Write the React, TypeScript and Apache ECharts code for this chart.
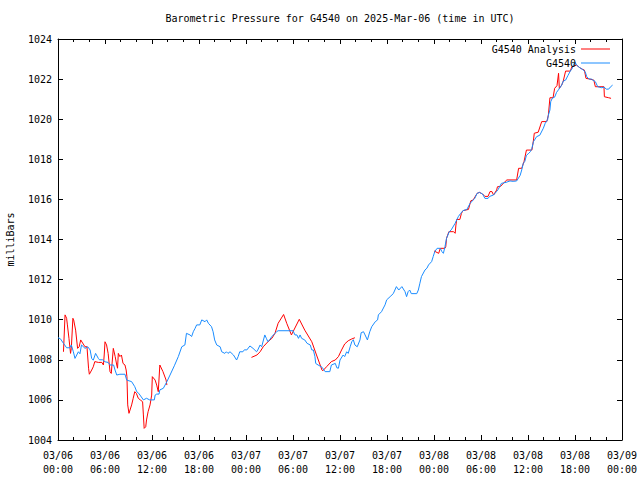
import React, { useEffect, useRef } from "react";
import * as echarts from "echarts";

// Hours since 2025-03-06 00:00 UTC
const xTickHours = [0, 6, 12, 18, 24, 30, 36, 42, 48, 54, 60, 66, 72];
const yTicks = [1004, 1006, 1008, 1010, 1012, 1014, 1016, 1018, 1020, 1022, 1024];

const stationHours = [
  0.0, 0.3, 0.7, 1.1, 1.5, 1.7, 1.96, 2.17, 2.6, 2.8, 3.0, 3.45, 3.8, 4.1, 4.3, 4.5, 4.8, 5.15, 5.3, 5.7,
  6.0, 6.4, 6.64, 7.1, 7.28, 7.5, 7.9, 8.55, 8.77, 9.4, 9.8, 10.05, 10.3, 10.47, 10.9, 11.3, 11.7, 12.3, 12.4, 12.6,
  12.9, 13.0, 13.45, 13.9, 14.3, 14.85, 15.36, 15.8, 16.2, 16.4, 16.85, 17.06, 17.27, 17.5, 17.7, 18.1, 18.35, 18.77, 18.98, 19.2,
  19.6, 19.8, 20.0, 20.26, 20.7, 20.9, 21.3, 21.5, 21.7, 21.96, 22.4, 22.8, 23.0, 23.2, 23.6, 23.8, 24.1, 24.5, 24.9, 25.35,
  25.5, 25.8, 26.0, 26.4, 26.6, 26.8, 27.0, 27.3, 27.7, 27.9, 28.1, 30.0, 30.25, 30.5, 30.7, 30.9, 31.1, 31.5, 31.8, 32.2,
  32.4, 32.6, 32.8, 32.9, 33.2, 33.7, 34.1, 34.7, 34.9, 35.4, 35.6, 35.8, 36.0, 36.4, 36.6, 36.85, 37.05, 37.3, 37.5, 37.7,
  37.9, 38.2, 38.55, 38.7, 39.0, 39.2, 39.5, 39.8, 40.05, 40.5, 40.8, 40.9, 41.3, 41.75, 41.96, 42.4, 42.8, 43.2, 43.5, 43.9,
  44.3, 44.5, 44.7, 44.9, 45.1, 45.8, 46.0, 46.2, 46.4, 46.85, 47.1, 47.3, 47.7, 47.9, 48.1, 48.4, 48.8, 49.0, 49.2, 49.4,
  49.6, 49.95, 50.2, 50.7, 51.1, 51.4, 51.7, 52.2, 52.6, 53.0, 53.2, 53.5, 53.8, 54.2, 54.5, 54.9, 55.1, 55.6, 56.0, 56.2,
  56.6, 57.2, 57.7, 58.1, 58.55, 59.0, 59.2, 59.4, 59.6, 59.8, 60.1, 60.3, 60.5, 60.7, 61.1, 61.5, 61.96, 62.2, 62.5, 62.6,
  62.8, 62.9, 63.1, 63.4, 63.65, 63.95, 64.3, 64.5, 64.8, 65.1, 65.4, 65.6, 65.8, 66.0, 66.2, 66.6, 66.9, 67.3, 67.5, 67.8,
  68.1, 68.6, 68.9, 69.4, 69.7, 70.0, 70.3, 70.5, 70.8,
];
const stationPressure = [
  1009.1, 1009.05, 1008.82, 1008.6, 1008.6, 1008.74, 1008.4, 1008.07, 1008.4, 1008.3, 1008.74, 1008.57, 1008.65, 1008.49, 1008.07, 1007.98, 1008.32, 1008.07, 1008.0, 1008.0,
  1007.9, 1007.87, 1007.74, 1007.74, 1007.49, 1007.24, 1007.28, 1007.28, 1006.99, 1006.91, 1006.66, 1006.41, 1006.33, 1006.24, 1006.0, 1006.08, 1006.0, 1006.0, 1006.24, 1006.29,
  1006.29, 1006.5, 1006.58, 1006.91, 1007.24, 1007.7, 1008.16, 1008.65, 1008.74, 1009.32, 1009.24, 1009.16, 1009.4, 1009.57, 1009.74, 1009.74, 1009.99, 1009.9, 1009.99, 1009.82,
  1009.65, 1009.4, 1008.99, 1008.74, 1008.65, 1008.4, 1008.32, 1008.4, 1008.32, 1008.4, 1008.24, 1007.99, 1008.16, 1008.4, 1008.4, 1008.5, 1008.49, 1008.69, 1008.57, 1008.4,
  1008.49, 1008.74, 1008.65, 1009.24, 1009.07, 1008.9, 1008.99, 1009.16, 1009.32, 1009.4, 1009.45, 1009.45, 1009.24, 1009.24, 1009.07, 1009.24, 1009.07, 1008.99, 1008.82, 1008.74,
  1008.49, 1008.49, 1008.16, 1007.82, 1007.74, 1007.63, 1007.41, 1007.41, 1007.74, 1007.82, 1007.6, 1007.58, 1007.99, 1008.24, 1008.16, 1008.4, 1008.32, 1008.65, 1008.9, 1009.0,
  1008.74, 1008.65, 1008.99, 1009.35, 1009.4, 1009.24, 1008.99, 1009.4, 1009.65, 1009.9, 1009.99, 1010.24, 1010.4, 1010.74, 1010.99, 1011.15, 1011.3, 1011.65, 1011.48, 1011.65,
  1011.4, 1011.15, 1011.4, 1011.48, 1011.3, 1011.3, 1011.48, 1011.82, 1012.15, 1012.48, 1012.57, 1012.73, 1012.9, 1013.15, 1013.4, 1013.56, 1013.56, 1013.4, 1013.31, 1013.64,
  1014.06, 1014.39, 1014.48, 1014.81, 1015.14, 1015.3, 1015.44, 1015.5, 1015.8, 1015.97, 1016.05, 1016.3, 1016.35, 1016.27, 1016.05, 1016.05, 1016.15, 1016.22, 1016.4, 1016.5,
  1016.8, 1016.85, 1016.92, 1016.9, 1016.92, 1017.2, 1017.47, 1017.8, 1017.9, 1018.2, 1018.3, 1018.38, 1018.55, 1018.88, 1019.13, 1019.2, 1019.55, 1019.8, 1019.97, 1020.2,
  1020.46, 1020.87, 1021.05, 1021.1, 1021.34, 1021.5, 1021.7, 1021.9, 1021.95, 1022.18, 1022.4, 1022.5, 1022.7, 1022.85, 1022.7, 1022.57, 1022.5, 1022.37, 1022.12, 1022.0,
  1022.0, 1021.87, 1021.62, 1021.57, 1021.6, 1021.5, 1021.5, 1021.6, 1021.7,
];

// Analysis: three separate runs
const analysisHours1 = [
  0.7, 0.9, 1.1, 1.2, 1.4, 1.6, 1.7, 1.9, 2.0, 2.25, 2.5, 2.7, 2.9, 3.3, 3.45, 3.7, 3.9, 4.0, 4.3, 4.5,
  4.7, 5.15, 5.6, 5.8, 5.9, 6.0, 6.2, 6.4, 6.64, 6.8, 7.06, 7.3, 7.5, 7.6, 7.7, 7.9, 8.1, 8.3, 8.55, 8.7,
  8.8, 8.9, 9.06, 9.4, 9.6, 9.8, 10.0, 10.25, 10.5, 10.8, 10.9, 11.0, 11.2, 11.3, 11.5, 11.75, 11.96, 12.04, 12.4, 12.6,
  12.8, 13.0, 13.4, 13.8, 13.9,
];
const analysisPressure1 = [
  1008.4, 1010.24, 1010.07, 1009.74, 1009.07, 1008.32, 1008.57, 1010.07, 1009.99, 1009.48, 1008.57, 1008.65, 1008.99, 1008.74, 1008.65, 1008.65, 1007.58, 1007.28, 1007.49, 1007.65,
  1007.91, 1007.87, 1007.87, 1007.74, 1008.24, 1008.9, 1008.74, 1008.32, 1007.41, 1007.32, 1008.57, 1008.16, 1007.74, 1007.58, 1008.32, 1008.16, 1008.24, 1007.82, 1007.74, 1007.49,
  1007.16, 1005.75, 1005.33, 1005.75, 1006.08, 1006.41, 1006.33, 1006.08, 1006.0, 1005.91, 1005.25, 1004.58, 1004.66, 1005.0, 1005.41, 1005.75, 1006.24, 1007.16, 1006.99, 1006.74,
  1006.41, 1007.74, 1007.41, 1006.99, 1006.74,
];
const analysisHours2 = [
  24.7, 25.4, 25.8, 26.2, 26.8, 27.3, 27.7, 28.1, 28.8, 29.2, 29.8, 30.8, 31.5, 32.4, 33.0, 33.7, 33.8, 34.3, 34.9, 35.4,
  35.8, 36.2, 36.6, 37.05, 37.5, 37.9,
];
const analysisPressure2 = [
  1008.12, 1008.24, 1008.4, 1008.65, 1008.9, 1009.07, 1009.32, 1009.82, 1010.26, 1009.82, 1009.24, 1010.02, 1009.48, 1008.9, 1008.24, 1007.49, 1007.45, 1007.66, 1007.91, 1007.99,
  1008.16, 1008.49, 1008.79, 1008.95, 1009.04, 1009.1,
];
const analysisHours3 = [
  48.0, 48.6, 48.8, 49.4, 49.5, 49.6, 49.9, 50.5, 50.7, 50.8, 50.9, 51.3, 51.5, 51.7, 52.4, 52.7, 53.0, 53.5, 53.8, 54.2,
  54.5, 54.9, 55.15, 55.4, 55.6, 56.0, 56.1, 56.5, 56.85, 57.3, 58.55, 58.8, 59.2, 59.5, 59.8, 60.5, 60.7, 60.8, 61.3, 61.75,
  62.4, 62.6, 62.8, 63.2, 63.4, 63.7, 63.9, 64.0, 64.3, 64.5, 64.8, 65.4, 65.6, 66.2, 66.6, 66.9, 67.2, 67.4, 67.9, 68.4,
  68.6, 69.7, 69.75, 70.3, 70.6,
];
const analysisPressure3 = [
  1013.43, 1013.31, 1013.56, 1013.56, 1013.64, 1014.06, 1014.39, 1014.39, 1014.31, 1014.72, 1015.0, 1015.0, 1015.3, 1015.44, 1015.5, 1015.93, 1015.97, 1016.3, 1016.35, 1016.27,
  1016.15, 1016.15, 1016.39, 1016.39, 1016.22, 1016.47, 1016.63, 1016.65, 1016.8, 1016.97, 1016.97, 1017.55, 1017.55, 1017.9, 1018.46, 1018.46, 1018.96, 1019.3, 1019.35, 1019.88,
  1019.88, 1020.2, 1021.07, 1021.07, 1021.54, 1021.67, 1022.29, 1021.54, 1021.7, 1021.9, 1022.4, 1022.4, 1022.62, 1022.7, 1022.57, 1022.5, 1022.45, 1022.04, 1022.0, 1021.95,
  1021.62, 1021.62, 1021.12, 1021.07, 1021.04,
];

const zip = (xs: number[], ys: number[]) => xs.map((x, i) => [x, ys[i]]);

const FONT = "DejaVu Sans Mono";

function hourLabel(v: number): string {
  const day = 6 + Math.floor(v / 24);
  const hh = v % 24;
  const p = (n: number) => (n < 10 ? "0" + n : "" + n);
  return "03/" + p(day) + "\n" + p(hh) + ":00";
}

export default function App() {
  const ref = useRef<HTMLDivElement>(null);
  useEffect(() => {
    if (!ref.current) return;
    const chart = echarts.init(ref.current, undefined, { renderer: "svg" });
    const analysisData: any[] = [
      ...zip(analysisHours1, analysisPressure1),
      [19, "-"],
      ...zip(analysisHours2, analysisPressure2),
      [43, "-"],
      ...zip(analysisHours3, analysisPressure3),
    ];
    const xCommon = {
      type: "value" as const,
      min: xTickHours[0],
      max: xTickHours[xTickHours.length - 1],
      interval: 6,
      splitLine: { show: false },
      axisLine: { show: true, onZero: false, lineStyle: { color: "#000", width: 1 } },
      axisTick: { show: true, inside: true, length: 5, lineStyle: { color: "#000" } },
      minorTick: { show: true, splitNumber: 3, length: 3, lineStyle: { color: "#000" } },
    };
    const yCommon = {
      type: "value" as const,
      min: yTicks[0],
      max: yTicks[yTicks.length - 1],
      interval: 2,
      splitLine: { show: false },
      axisLine: { show: true, onZero: false, lineStyle: { color: "#000", width: 1 } },
      axisTick: { show: true, inside: true, length: 5, lineStyle: { color: "#000" } },
    };
    chart.setOption({
      animation: false,
      backgroundColor: "#fff",
      title: {
        text: "Barometric Pressure for G4540 on 2025-Mar-06 (time in UTC)",
        left: 340,
        top: 13,
        textAlign: "center",
        padding: 0,
        textStyle: { fontFamily: FONT, fontSize: 10, fontWeight: "normal", color: "#000" },
      },
      legend: {
        orient: "vertical",
        right: 30,
        top: 43,
        align: "right",
        itemWidth: 29,
        itemHeight: 1,
        itemGap: 2,
        padding: 0,
        textStyle: { fontFamily: FONT, fontSize: 10, color: "#000", lineHeight: 12 },
        data: [
          { name: "G4540 Analysis", icon: "rect" },
          { name: "G4540", icon: "rect" },
        ],
      },
      grid: { left: 58, right: 18, top: 39, bottom: 40, outerBoundsMode: "none" },
      xAxis: [
        {
          ...xCommon,
          position: "bottom",
          axisLabel: {
            show: true,
            margin: 8,
            formatter: hourLabel,
            fontFamily: FONT,
            fontSize: 10,
            lineHeight: 14,
            color: "#000",
          },
        },
        { ...xCommon, position: "top", axisLabel: { show: false } },
      ],
      yAxis: [
        {
          ...yCommon,
          position: "left",
          name: "milliBars",
          nameLocation: "middle",
          nameGap: 43,
          nameRotate: 90,
          nameTextStyle: { fontFamily: FONT, fontSize: 10, color: "#000" },
          axisLabel: {
            show: true,
            margin: 6,
            formatter: (v: number) => String(v),
            fontFamily: FONT,
            fontSize: 10,
            color: "#000",
          },
        },
        { ...yCommon, position: "right", axisLabel: { show: false } },
      ],
      series: [
        {
          name: "G4540 Analysis",
          type: "line",
          data: analysisData,
          symbol: "none",
          connectNulls: false,
          lineStyle: { color: "#ff0000", width: 1 },
          itemStyle: { color: "#ff0000" },
        },
        {
          name: "G4540",
          type: "line",
          data: zip(stationHours, stationPressure),
          symbol: "none",
          lineStyle: { color: "#1a8cff", width: 1 },
          itemStyle: { color: "#1a8cff" },
        },
      ],
    });
    return () => chart.dispose();
  }, []);
  return (
    <div
      ref={ref}
      style={{ position: "fixed", left: 0, top: 0, width: 640, height: 480 }}
    />
  );
}
